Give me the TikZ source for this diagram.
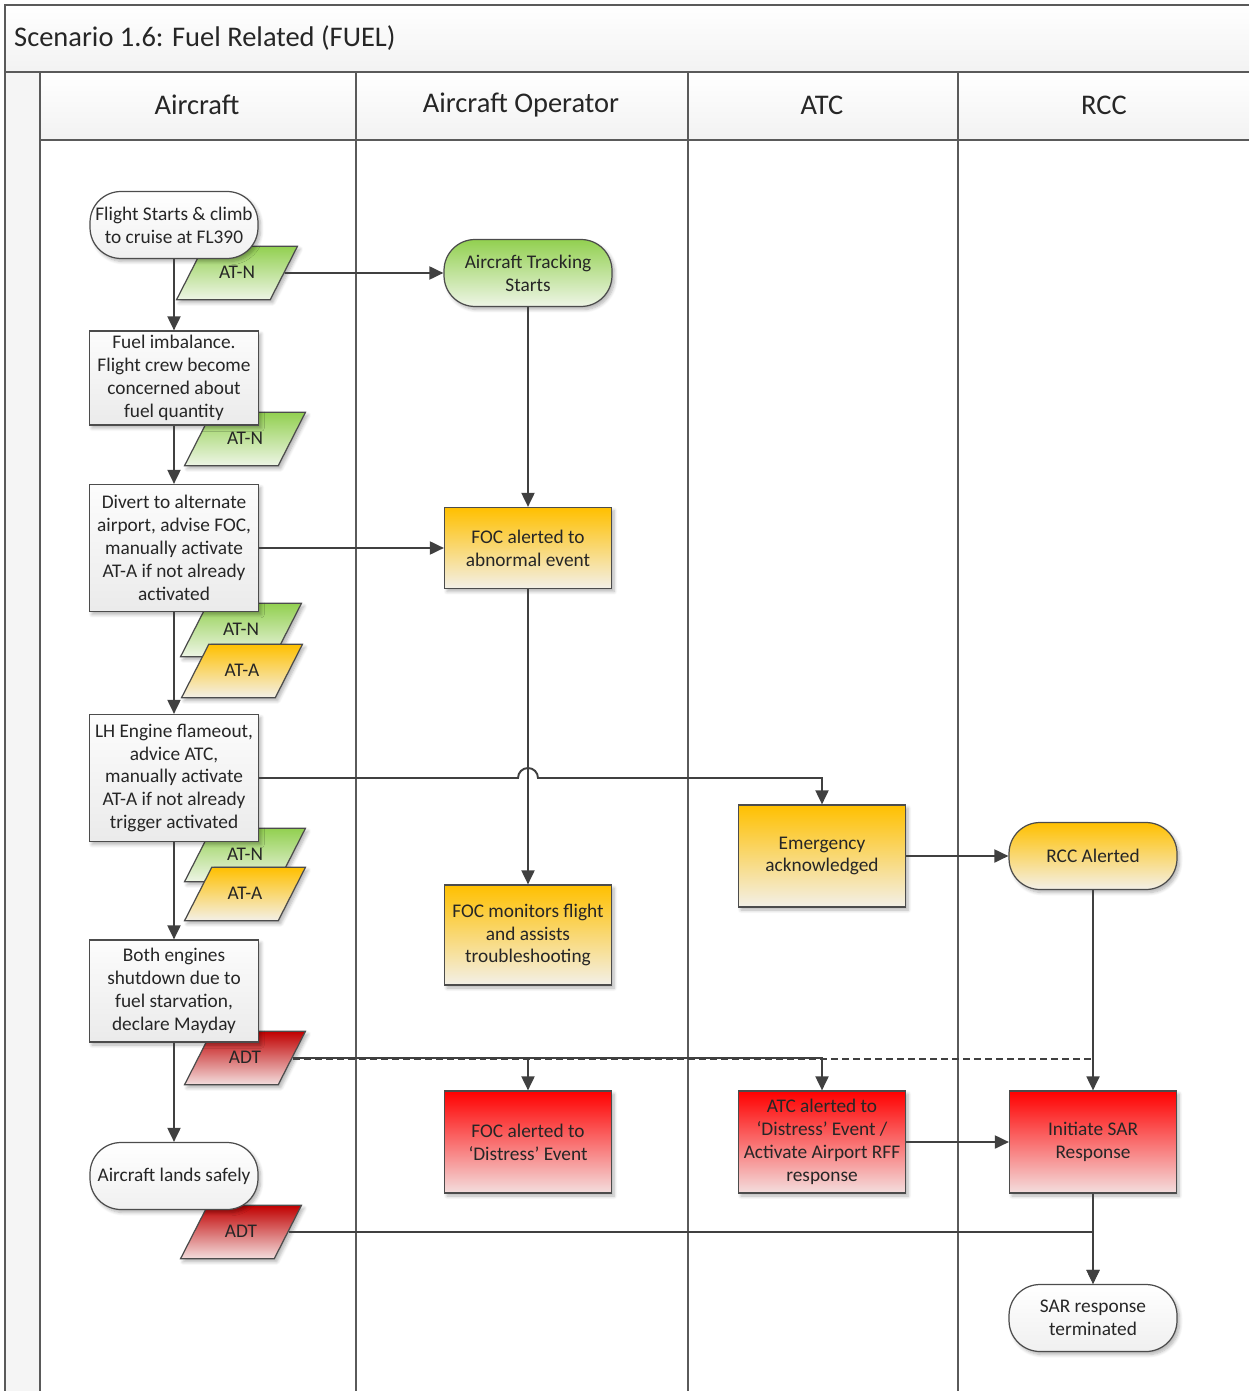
\documentclass[tikz,border=0pt]{standalone}
\usepackage{fontspec}
\setmainfont{Carlito}
\usetikzlibrary{arrows.meta,shapes.geometric,shadows.blur,calc}

\definecolor{lineclr}{HTML}{404040}
\definecolor{laneclr}{HTML}{5A5A5A}
\definecolor{amber}{HTML}{FFC000}
\definecolor{amberlow}{HTML}{F3F0E8}
\definecolor{alarm}{HTML}{FF0000}
\definecolor{alarmlow}{HTML}{F3DEDE}
\definecolor{darkalarm}{HTML}{C00000}
\definecolor{leaf}{HTML}{92D050}
\definecolor{leaflow}{HTML}{EEF5E6}

\tikzset{
	lane/.style={draw=laneclr, line width=0.8pt},
	flow/.style={draw=lineclr, line width=1.1pt, -{Triangle[length=0.28cm,width=0.26cm]}},
	basebox/.style={draw=black!70, line width=0.7pt, align=center, text=black!85,
		font=\fontsize{11}{13}\selectfont, inner sep=2pt,
		blur shadow={shadow xshift=0.05cm, shadow yshift=-0.06cm, shadow opacity=30, shadow blur steps=6}},
	crewbox/.style={basebox, rectangle, minimum width=3.38cm, top color=gray!2, bottom color=gray!16},
	ambox/.style={basebox, rectangle, minimum width=3.34cm, top color=amber, bottom color=amberlow},
	redbox/.style={basebox, rectangle, minimum width=3.34cm, top color=alarm, bottom color=alarmlow},
	endpt/.style={basebox, rectangle, rounded corners=0.62cm, minimum width=3.36cm, minimum height=1.34cm},
	datatag/.style={basebox, trapezium, trapezium left angle=63, trapezium right angle=117,
		trapezium stretches body, minimum width=2.42cm, text height=7.5pt, text depth=1pt, inner ysep=11pt},
	lanehead/.style={font=\fontsize{16.2}{19}\selectfont, text=black!85},
}

\begin{document}
\begin{tikzpicture}[x=0.02cm, y=-0.02cm]
	\useasboundingbox (0,0) rectangle (1249,1391);
	% pool and lanes
	\shade[top color=white, bottom color=gray!10] (5,5) rectangle (1249,72);
	\shade[top color=white, bottom color=gray!10] (40,72) rectangle (1249,140);
	\fill[gray!8] (5,72) rectangle (40,1391);
	\draw[lane] (5,1391) -- (5,5) -- (1249,5);
	\draw[lane] (5,72) -- (1249,72);
	\draw[lane] (40,140) -- (1249,140);
	\foreach \x in {40,356,688,958}
		\draw[lane] (\x,72) -- (\x,1391);
	\node[lanehead, anchor=west] (title) at (8,38) {Scenario 1.6: Fuel Related (FUEL)};
	\node[lanehead] (hcraft) at (197,105) {Aircraft};
	\node[lanehead] (hoper) at (521,105) {Aircraft Operator};
	\node[lanehead] (hatc) at (822,105) {ATC};
	\node[lanehead] (hrcc) at (1104,105) {RCC};

	% data tags sit behind the aircraft steps
	\node[datatag, top color=leaf, bottom color=leaflow] (atn1) at (237,273) {AT-N};
	\node[datatag, top color=leaf, bottom color=leaflow] (atn2) at (245,439) {AT-N};
	\node[datatag, top color=leaf, bottom color=leaflow] (atn3) at (241,630) {AT-N};
	\node[datatag, top color=amber, bottom color=amberlow] (ata3) at (242,671) {AT-A};
	\node[datatag, top color=leaf, bottom color=leaflow] (atn4) at (245,855) {AT-N};
	\node[datatag, top color=amber, bottom color=amberlow] (ata4) at (245,894) {AT-A};
	\node[datatag, top color=darkalarm, bottom color=alarmlow] (adt1) at (245,1058) {ADT};
	\node[datatag, top color=darkalarm, bottom color=alarmlow] (adt2) at (241,1232) {ADT};

	% aircraft lane
	\node[endpt, top color=white, bottom color=gray!12] (start1) at (174,225) {Flight Starts \& climb\\to cruise at FL390};
	\node[crewbox, minimum height=1.88cm] (fuel) at (174,378) {Fuel imbalance.\\Flight crew become\\concerned about\\fuel quantity};
	\node[crewbox, minimum height=2.54cm] (divert) at (174,548) {Divert to alternate\\airport, advise FOC,\\manually activate\\AT-A if not already\\activated};
	\node[crewbox, minimum height=2.54cm] (lhengine) at (174,778) {LH Engine flameout,\\advice ATC,\\manually activate\\AT-A if not already\\trigger activated};
	\node[crewbox, minimum height=2.04cm] (bothout) at (174,991) {Both engines\\shutdown due to\\fuel starvation,\\declare Mayday};
	\node[endpt, top color=white, bottom color=gray!12] (lands) at (174,1176) {Aircraft lands safely};

	% operator lane
	\node[endpt, top color=leaf, bottom color=leaflow] (track) at (528,273) {Aircraft Tracking\\Starts};
	\node[ambox, minimum height=1.62cm] (focabn) at (528,548) {FOC alerted to\\abnormal event};
	\node[ambox, minimum height=2.0cm] (focmon) at (528,935) {FOC monitors flight\\and assists\\troubleshooting};
	\node[redbox, minimum height=2.04cm] (focred) at (528,1142) {FOC alerted to\\‘Distress’ Event};

	% atc lane
	\node[ambox, minimum height=2.04cm] (emerg) at (822,856) {Emergency\\acknowledged};
	\node[redbox, minimum height=2.04cm] (atcred) at (822,1142) {ATC alerted to\\‘Distress’ Event /\\Activate Airport RFF\\response};

	% rcc lane
	\node[endpt, top color=amber, bottom color=amberlow] (rccal) at (1093,856) {RCC Alerted};
	\node[redbox, minimum height=2.04cm] (sarinit) at (1093,1142) {Initiate SAR\\Response};
	\node[endpt, top color=white, bottom color=gray!12] (sarterm) at (1093,1318) {SAR response\\terminated};

	% connectors
	\draw[flow] (start1.south) -- (fuel.north);
	\draw[flow] (fuel.south) -- (divert.north);
	\draw[flow] (divert.south) -- (lhengine.north);
	\draw[flow] (lhengine.south) -- (bothout.north);
	\draw[flow] (bothout.south) -- (lands.north);
	\draw[flow] (atn1.east) -- (track.west);
	\draw[flow] (track.south) -- (focabn.north);
	\draw[flow] (divert.east) -- (focabn.west);
	\draw[flow] (focabn.south) -- (focmon.north);
	\draw[flow] (lhengine.east) -- ($(focabn.south |- lhengine.east)+(-10,0)$)
		arc[start angle=180, end angle=0, radius=0.2cm] -| (emerg.north);
	\draw[flow] (emerg.east) -- (rccal.west);
	\draw[flow] (rccal.south) -- (sarinit.north);
	\draw[draw=lineclr, line width=1.1pt, dash pattern=on 0.14cm off 0.08cm] ([yshift=-0.5pt]adt1.east) -- ([yshift=-0.5pt]sarinit.north |- adt1.east);
	\draw[flow] (adt1.east) -| (focred.north);
	\draw[flow] (adt1.east) -| (atcred.north);
	\draw[flow] (atcred.east) -- (sarinit.west);
	\draw[flow] (sarinit.south) -- (sarterm.north);
	\draw[flow] (adt2.east) -| (sarterm.north);
\end{tikzpicture}
\end{document}
